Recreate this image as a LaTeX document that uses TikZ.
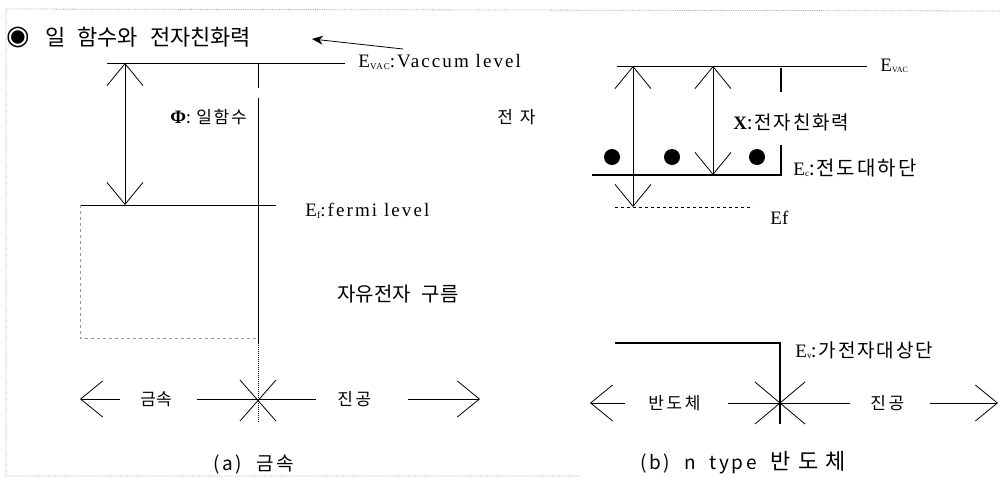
\documentclass[tikz,border=0pt]{standalone}
\usepackage{fontspec}
\setmainfont{Liberation Serif}
\newfontfamily\kr{Noto Sans CJK KR}
\newfontfamily\krT{Noto Sans CJK KR}[WordSpace=2.4]
\newfontfamily\krA{Noto Sans CJK KR}[LetterSpace=15]
\newfontfamily\krB{Noto Sans CJK KR}[LetterSpace=10]
\newfontfamily\krC{Noto Sans CJK KR}[LetterSpace=14,WordSpace=2]
\newfontfamily\krD{Noto Sans CJK KR}[LetterSpace=40]
\newfontfamily\krE{Noto Sans CJK KR}[LetterSpace=32]
\newfontfamily\sw{Liberation Serif}[LetterSpace=11]
\newfontfamily\symf{DejaVu Sans}
\usetikzlibrary{arrows.meta}
\newcommand{\fsz}[1]{\fontsize{#1}{#1}\selectfont}
\begin{document}
\begin{tikzpicture}[x=1pt,y=-1pt,line width=0.8pt,
  barb/.tip={Straight Barb[length=22pt,width=36pt,line width=0.8pt]},
  dbl/.style={barb-barb},
  oneway/.style={-barb},
  thk/.style={line width=2.6pt},
  lbl/.style={inner sep=0pt,anchor=west},
  krlbl/.style={lbl,font=\krA\fsz{17}},
  frame/.style={gray!70,densely dotted,line width=0.8pt},
  boxline/.style={gray!80,dashed,line width=0.7pt}]
\useasboundingbox (0,0) rectangle (1005,480);
% outer frame
\draw[frame] (1000,11) -- (6,9) -- (6,476) -- (580,476);
% title
\node[inner sep=0pt,font=\symf\fsz{27}] (bullet) at (18,37) {◉};
\node[lbl,font=\krT\fsz{22}] (title) at (45,37) {일 함수와 전자친화력};
\coordinate (ptrTail) at (403,49);
\coordinate (ptrTip) at (312,39);
\draw[-{Stealth[length=11pt,width=9pt]}] (ptrTail) -- (ptrTip);

% ---------- panel (a) ----------
\coordinate (aVacL) at (107,63);
\coordinate (aVacR) at (345,63);
\draw (aVacL) -- (aVacR);
\node[lbl,font=\sw\fsz{19}] (aVacLbl) at (358,62) {E\raisebox{-1.5pt}{\fsz{9}VAC}:Vaccum level};
\coordinate (phiTop) at (125,63);
\coordinate (phiBot) at (125,205);
\draw[dbl] (phiTop) -- (phiBot);
\coordinate (tickA1) at (258,63);
\coordinate (tickA2) at (258,88);
\draw (tickA1) -- (tickA2);
\coordinate (wallTop) at (258,98);
\coordinate (wallBot) at (258,343);
\coordinate (wallEnd) at (258,422);
\draw (wallTop) -- (wallBot);
\draw[densely dotted,line width=1pt] (wallBot) -- (wallEnd);
\coordinate (aFL) at (80,205);
\coordinate (aFR) at (276,205);
\draw (aFL) -- (aFR);
\draw[boxline] (aFL) -- (80,338) -- (258,338);
\node[lbl,font=\sw\fsz{19}] (aFLbl) at (305,211) {E\raisebox{-2pt}{\fsz{10}f}:fermi level};
\node[lbl] (phiLbl) at (170,117) {{\bfseries\fsz{19}Φ}{\krB\fsz{17}: 일함수}};
\node[lbl,font=\krD\fsz{17}] (elec) at (497,117) {전자};
\node[lbl,font=\kr\fsz{20}] (cloud) at (337,294) {자유전자 구름};
% bottom axis (a)
\coordinate (aC) at (258,400);
\draw (240,380) -- (276,421);
\draw (276,380) -- (240,421);
\coordinate (aArL) at (80,399);
\coordinate (aArL2) at (120,399);
\draw[oneway] (aArL2) -- (aArL);
\draw (197,399) -- (316,399);
\coordinate (aArR1) at (408,399);
\coordinate (aArR) at (480,399);
\draw[oneway] (aArR1) -- (aArR);
\node[lbl,font=\kr\fsz{17}] (metal) at (140,399) {금속};
\node[krlbl] (vac1) at (337,399) {진공};
\node[lbl,font=\krC\fsz{19}] (capA) at (213,465) {(a) 금속};

% ---------- panel (b) ----------
\coordinate (bVacL) at (617,66);
\coordinate (bVacR) at (867,66);
\draw (bVacL) -- (bVacR);
\node[lbl,font=\fsz{19}] (bVacLbl) at (880,66) {E\raisebox{-1.5pt}{\fsz{8}VAC}};
\coordinate (wfTop) at (633,66);
\coordinate (wfBot) at (633,207);
\draw[dbl] (wfTop) -- (wfBot);
\coordinate (chiTop) at (713,66);
\coordinate (chiBot) at (713,175);
\draw[dbl] (chiTop) -- (chiBot);
\draw[thk] (781,68) -- (781,92);
\coordinate (bEcL) at (592,175);
\coordinate (bEcR) at (781,175);
\draw[thk] (bEcL) -- (bEcR) -- (781,145);
\coordinate (bEfL) at (615,207);
\coordinate (bEfR) at (753,207);
\draw[dashed,line width=0.7pt] (bEfL) -- (bEfR);
\fill (612,157) circle (8);
\fill (672,157) circle (8);
\fill (757,157) circle (8);
\node[lbl] (chiLbl) at (733,122) {{\bfseries\fsz{19}X}{\krB\fsz{19}:전자친화력}};
\node[lbl] (ecLbl) at (793,168) {{\fsz{19}E\raisebox{-1.5pt}{\fsz{9}c}}{\krB\fsz{20}:전도대하단}};
\node[lbl,font=\fsz{19}] (bEfLbl) at (770,218) {Ef};
\coordinate (bEvL) at (615,343);
\coordinate (bEvC) at (780,343);
\coordinate (bEvB) at (780,424);
\draw[thk] (bEvL) -- (bEvC) -- (bEvB);
\node[lbl] (evLbl) at (795,350) {{\fsz{19}E\raisebox{-1.5pt}{\fsz{9}v}}{\krB\fsz{19}:가전자대상단}};
% bottom axis (b)
\draw (755,382) -- (805,424);
\draw (805,382) -- (755,424);
\coordinate (bArL) at (590,403);
\coordinate (bArL2) at (625,403);
\draw[oneway] (bArL2) -- (bArL);
\draw (728,403) -- (850,403);
\coordinate (bArR1) at (930,403);
\coordinate (bArR) at (998,403);
\draw[oneway] (bArR1) -- (bArR);
\node[krlbl] (semi) at (648,403) {반도체};
\node[krlbl] (vac2) at (870,403) {진공};
\node[lbl] (capB) at (640,463) {{\krC\fsz{19}(b) n type }{\krE\fsz{22}반도체}};
\end{tikzpicture}
\end{document}
